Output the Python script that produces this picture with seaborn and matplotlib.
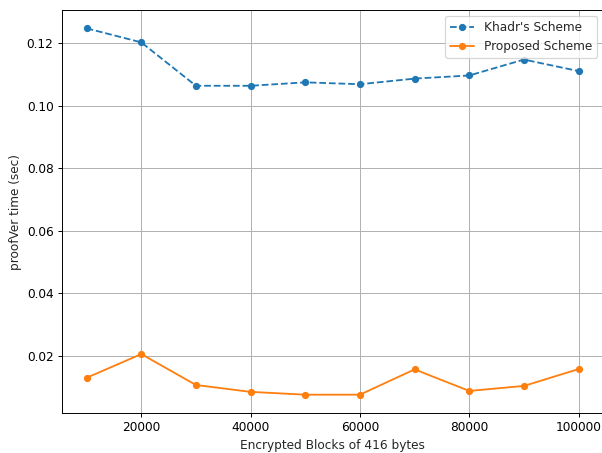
import matplotlib
matplotlib.use("Agg")
import matplotlib.pyplot as plt
import seaborn as sns
import pandas as pd

blocks = [10000, 20000, 30000, 40000, 50000, 60000, 70000, 80000, 90000, 100000]
khadr_time = [0.1248, 0.1203, 0.1064, 0.1064, 0.1075, 0.1069, 0.1087, 0.1097, 0.1148, 0.1111]
proposed_time = [0.0129, 0.0205, 0.0106, 0.0084, 0.0075, 0.0075, 0.0156, 0.0087, 0.0103, 0.0157]
series_names = ["Khadr's Scheme", "Proposed Scheme"]

sns.set_theme(style="ticks", rc={
    "axes.grid": True,
    "grid.color": "#b0b0b0",
    "grid.linewidth": 0.8,
    "axes.edgecolor": "black",
    "axes.linewidth": 0.8,
    "xtick.color": "black",
    "ytick.color": "black",
    "xtick.major.size": 3.5,
    "ytick.major.size": 3.5,
    "xtick.major.width": 0.8,
    "ytick.major.width": 0.8,
    "font.size": 10,
    "axes.labelsize": 10,
    "xtick.labelsize": 10,
    "ytick.labelsize": 10,
    "legend.fontsize": 10,
})
plt.rcParams["font.family"] = ["DejaVu Sans"]

df = pd.DataFrame({
    "blocks": blocks * 2,
    "time": khadr_time + proposed_time,
    "scheme": [series_names[0]] * len(blocks) + [series_names[1]] * len(blocks),
})

DPI = 87
fig = plt.figure(figsize=(602 / DPI, 453 / DPI), dpi=DPI)
ax = fig.add_axes([62 / 602, 1 - 413 / 453, 1 - 62 / 602 + 0.002, (413 - 10) / 453])

sns.lineplot(data=df[df.scheme == series_names[0]], x="blocks", y="time",
             color="#1f77b4", linestyle="--", marker="o", markersize=6,
             markeredgewidth=0, linewidth=1.5, label=series_names[0], ax=ax)
sns.lineplot(data=df[df.scheme == series_names[1]], x="blocks", y="time",
             color="#ff7f0e", linestyle="-", marker="o", markersize=6,
             markeredgewidth=0, linewidth=1.5, label=series_names[1], ax=ax)

ax.set_xticks([20000, 40000, 60000, 80000, 100000])
ax.set_yticks([0.02, 0.04, 0.06, 0.08, 0.10, 0.12])
ax.set_xlabel("Encrypted Blocks of 416 bytes")
ax.set_ylabel("proofVer time (sec)")
ax.legend(loc="upper right", frameon=True, fancybox=True, framealpha=0.8,
          edgecolor="#cccccc")
for side in ["top", "right"]:
    ax.spines[side].set_visible(True)

fig.savefig("out.png", dpi=DPI)
